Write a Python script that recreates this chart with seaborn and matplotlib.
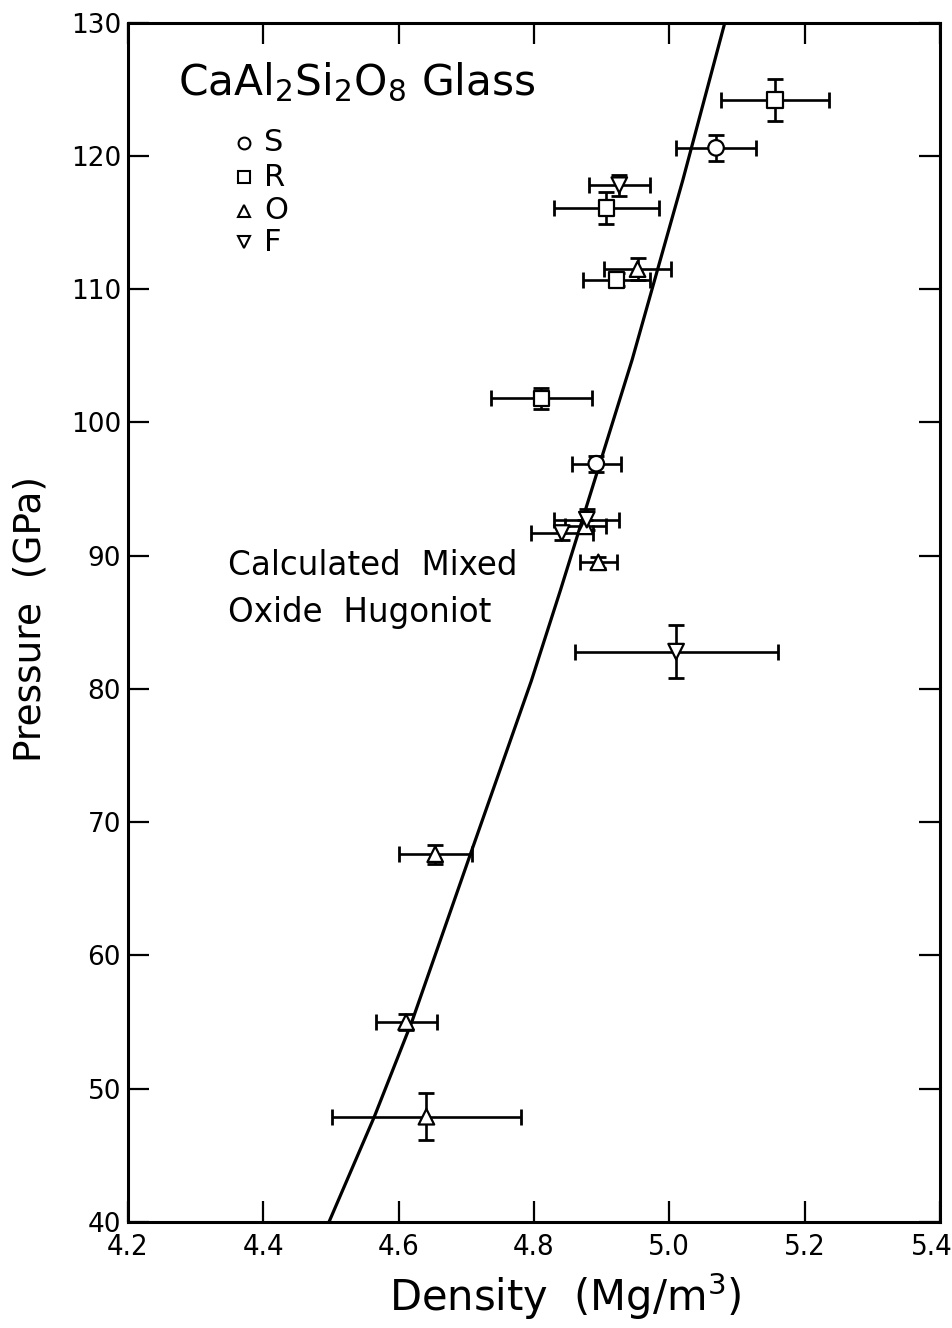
import numpy as np
import pandas as pd
import matplotlib
matplotlib.use("Agg")
import matplotlib.pyplot as plt
import matplotlib.transforms as mtransforms
import seaborn as sns

# Shock data for CaAl2Si2O8 glass, grouped by data source
S_density = [5.069, 4.892]
S_pressure = [120.6, 96.9]
S_density_err = [0.059, 0.036]
S_pressure_err = [1.0, 0.6]

R_density = [5.156, 4.907, 4.922, 4.811]
R_pressure = [124.2, 116.1, 110.7, 101.8]
R_density_err = [0.080, 0.077, 0.050, 0.075]
R_pressure_err = [1.6, 1.2, 0.5, 0.8]

O_density = [4.953, 4.876, 4.895, 4.654, 4.611, 4.641]
O_pressure = [111.5, 92.2, 89.5, 67.6, 55.0, 47.9]
O_density_err = [0.050, 0.030, 0.027, 0.054, 0.045, 0.140]
O_pressure_err = [0.8, 0.5, 0.4, 0.7, 0.6, 1.75]

F_density = [4.926, 4.878, 4.841, 5.010]
F_pressure = [117.8, 92.7, 91.7, 82.8]
F_density_err = [0.045, 0.048, 0.046, 0.150]
F_pressure_err = [0.8, 0.8, 0.5, 2.0]

# Calculated mixed-oxide Hugoniot
hugoniot_density = [4.497, 4.564, 4.620, 4.706, 4.796, 4.839, 4.945, 5.020, 5.082]
hugoniot_pressure = [40.0, 47.9, 55.1, 67.6, 80.6, 87.4, 104.7, 118.2, 130.0]

x_ticks = [4.2, 4.4, 4.6, 4.8, 5.0, 5.2, 5.4]
x_tick_labels = ["4.2", "4.4", "4.6", "4.8", "5.0", "5.2", "5.4"]
y_ticks = [40, 50, 60, 70, 80, 90, 100, 110, 120, 130]
y_tick_labels = [str(v) for v in y_ticks]

source_names = ["S", "R", "O", "F"]
source_markers = {"S": "o", "R": "s", "O": "^", "F": "v"}

frames = []
for name, d, p, de, pe in [
    ("S", S_density, S_pressure, S_density_err, S_pressure_err),
    ("R", R_density, R_pressure, R_density_err, R_pressure_err),
    ("O", O_density, O_pressure, O_density_err, O_pressure_err),
    ("F", F_density, F_pressure, F_density_err, F_pressure_err),
]:
    frames.append(pd.DataFrame({"source": name, "density": d, "pressure": p,
                                "density_err": de, "pressure_err": pe}))
shots = pd.concat(frames, ignore_index=True)
curve = pd.DataFrame({"density": hugoniot_density, "pressure": hugoniot_pressure})

sns.set_theme(style="ticks")
plt.rcParams["font.family"] = ["DejaVu Sans"]
plt.rcParams["mathtext.fontset"] = "dejavusans"
for key in ["text.color", "axes.labelcolor", "xtick.color", "ytick.color",
            "axes.edgecolor"]:
    plt.rcParams[key] = "black"

fig = plt.figure(figsize=(9.53, 13.28), dpi=100)
ax = fig.add_axes([0.1343, 0.0798, 0.8521, 0.9032])

sns.lineplot(data=curve, x="density", y="pressure", sort=False, color="black",
             linewidth=2.3, ax=ax, zorder=2)

ax.errorbar(shots["density"], shots["pressure"],
            xerr=shots["density_err"], yerr=shots["pressure_err"],
            fmt="none", ecolor="black", elinewidth=1.9, capsize=6,
            capthick=2.0, zorder=3)

sns.scatterplot(data=shots, x="density", y="pressure", style="source",
                markers=source_markers, style_order=source_names,
                color="white", edgecolor="black", linewidth=1.6, s=125,
                legend=False, ax=ax, zorder=4)

ax.set_xlim(4.2, 5.4)
ax.set_ylim(40, 130)
ax.set_xticks(x_ticks)
ax.set_xticklabels(x_tick_labels, fontsize=21, fontstretch="condensed")
ax.set_yticks(y_ticks)
ax.set_yticklabels(y_tick_labels, fontsize=19)
ax.tick_params(which="both", direction="in", top=True, right=True,
               length=15, width=1.6, color="black")
ax.tick_params(axis="x", pad=8)
ax.tick_params(axis="y", pad=5)
for sp in ax.spines.values():
    sp.set_linewidth(2.2)
    sp.set_color("black")

# keep the last density label inside the canvas
last = ax.get_xticklabels()[-1]
last.set_transform(last.get_transform() +
                   mtransforms.ScaledTranslation(-8 / 100, 0, fig.dpi_scale_trans))

ax.set_xlabel("Density  (Mg/m$^{3}$)", fontsize=30)
ax.set_ylabel("Pressure  (GPa)", fontsize=27)
ax.xaxis.set_label_coords(0.539, -0.040)
ax.yaxis.set_label_coords(-0.098, 0.503)

# Title and symbol key
ax.text(0.0616, 0.9396, "CaAl$_2$Si$_2$O$_8$ Glass", transform=ax.transAxes,
        fontsize=30.5, ha="left", va="baseline")
key_y = [0.900, 0.871, 0.843, 0.817]
for name, yk in zip(source_names, key_y):
    ax.plot([0.143], [yk], marker=source_markers[name], markersize=8.5,
            markerfacecolor="white", markeredgecolor="black",
            markeredgewidth=1.5, linestyle="none", transform=ax.transAxes,
            clip_on=False)
    ax.text(0.168, yk, name, transform=ax.transAxes, fontsize=22,
            ha="left", va="center")

ax.text(4.348, 85.0, "Calculated  Mixed\nOxide  Hugoniot", fontsize=23.5,
        ha="left", va="baseline", linespacing=1.55)

fig.savefig("out.png", dpi=100)
